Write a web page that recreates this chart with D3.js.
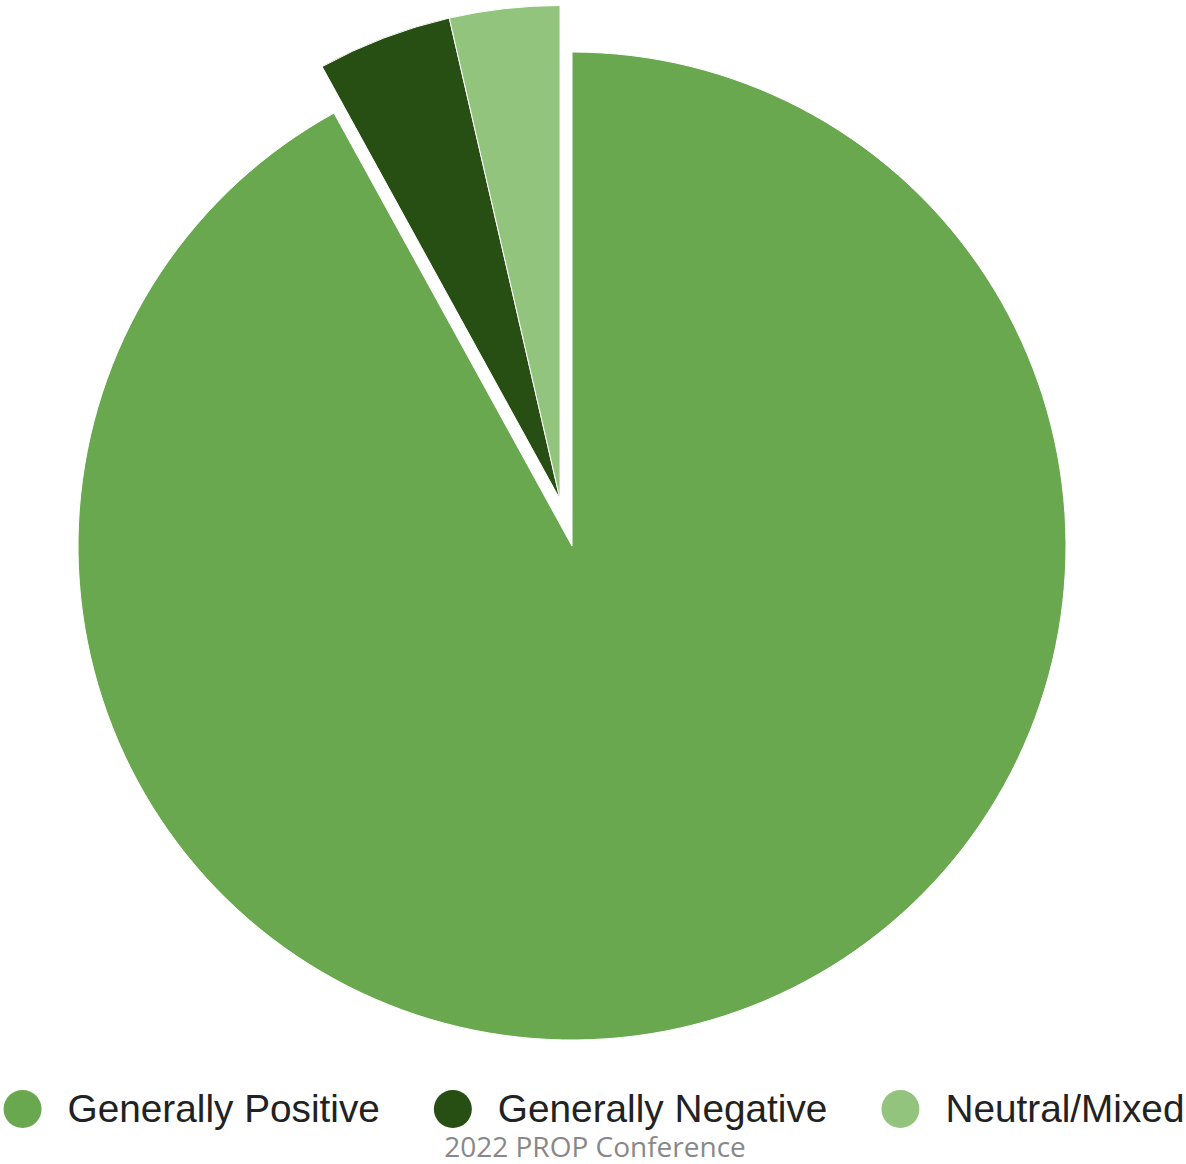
<!DOCTYPE html>
<html>
<head>
<meta charset="utf-8">
<script src="https://cdn.jsdelivr.net/npm/d3@7"></script>
<style>
  html, body { margin: 0; padding: 0; background: #fff; }
  svg { display: block; }
</style>
</head>
<body>
<svg id="chart" width="1186" height="1164"></svg>
<script>
// ---- data ----
const categories = ["Generally Positive", "Generally Negative", "Neutral/Mixed"];
const values = [92.0, 4.4, 3.6];
const exploded = [false, true, true];
const colors = ["#6aa84f", "#274e13", "#93c47d"];
const caption = "2022 PROP Conference";

// ---- layout ----
const W = 1186, H = 1164;
const cx = 572, cy = 546, R = 494;
const explodeDist = 48;

const svg = d3.select("#chart");
const pie = d3.pie().sort(null).value(d => d.v).startAngle(0).endAngle(2 * Math.PI);
const arcs = pie(categories.map((c, i) => ({ c, v: values[i], ex: exploded[i], col: colors[i] })));
const arc = d3.arc().innerRadius(0).outerRadius(R);

// exploded group shares one offset along the group's mid-angle
const exArcs = arcs.filter(a => a.data.ex);
let ox = 0, oy = 0;
if (exArcs.length) {
  const a0 = d3.min(exArcs, a => a.startAngle), a1 = d3.max(exArcs, a => a.endAngle);
  const mid = (a0 + a1) / 2;
  ox = Math.sin(mid) * explodeDist;
  oy = -Math.cos(mid) * explodeDist;
}

const g = svg.append("g").attr("transform", `translate(${cx},${cy})`);
g.selectAll("path.slice")
  .data(arcs)
  .join("path")
  .attr("class", "slice")
  .attr("d", arc)
  .attr("transform", d => d.data.ex ? `translate(${ox},${oy})` : null)
  .attr("fill", d => d.data.col)
  .attr("stroke", "#ffffff")
  .attr("stroke-width", 1);

// ---- legend ----
const legY = 1109, legR = 19, textGap = 26, itemGap = 54;
const leg = svg.append("g");
const items = leg.selectAll("g.item").data(categories).join("g").attr("class", "item");
items.append("circle").attr("r", legR).attr("cx", 0).attr("cy", legY).attr("fill", (d, i) => colors[i]);
items.append("text")
  .attr("x", legR + textGap).attr("y", legY + 13)
  .attr("font-family", "'Liberation Sans', Arial, sans-serif")
  .attr("font-size", 38.75)
  .attr("fill", "#222222")
  .text(d => d);
let x = 0;
const positions = [];
items.each(function () {
  const tw = d3.select(this).select("text").node().getComputedTextLength();
  positions.push(x + legR);
  x += 2 * legR + textGap + tw + itemGap;
});
const totalW = x - itemGap;
const startX = (W - totalW) / 2 + 1;
items.attr("transform", (d, i) => `translate(${startX + positions[i]},0)`);

// ---- caption ----
svg.append("text")
  .attr("x", 595).attr("y", 1157)
  .attr("text-anchor", "middle")
  .attr("font-family", "'Open Sans', sans-serif")
  .attr("font-size", 28)
  .attr("fill", "#888888")
  .text(caption);
</script>
</body>
</html>
